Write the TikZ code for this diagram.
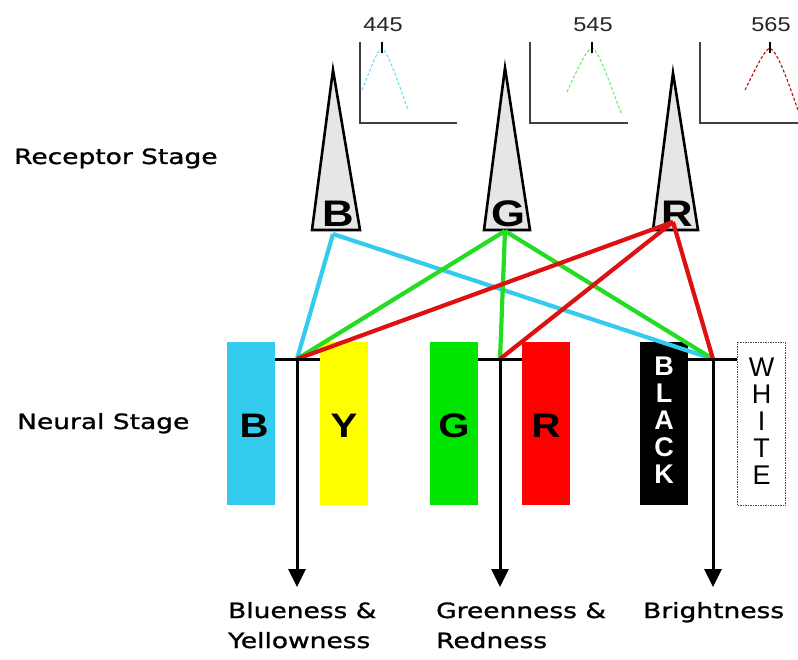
\documentclass[tikz,border=0pt]{standalone}
\usepackage{fontspec}
\setmainfont{DejaVu Sans}[FakeStretch=1.26,FakeBold=1.2]
\newfontfamily\arialfont{Liberation Sans}[FakeStretch=1.18]
\newfontfamily\narrowarial{Liberation Sans}
\usetikzlibrary{arrows.meta}
\definecolor{conefill}{HTML}{E6E6E6}
\definecolor{bluecol}{HTML}{33CCEE}
\definecolor{yellowcol}{HTML}{FFFF00}
\definecolor{greencol}{HTML}{00E600}
\definecolor{redcol}{HTML}{FF0000}
\definecolor{redline}{HTML}{DD1111}
\definecolor{greenline}{HTML}{22DD22}
\begin{document}
\begin{tikzpicture}[x=1pt,y=-1pt,
  cone/.style={draw=black,line width=2.6pt,fill=conefill,line join=miter},
  conelabel/.style={font=\arialfont\bfseries\fontsize{37}{37}\selectfont,inner sep=0pt,anchor=base},
  axis/.style={draw=black!75,line width=1.6pt},
  curve/.style={line width=1.1pt,dash pattern=on 3pt off 2pt},
  peaklabel/.style={font=\arialfont\fontsize{20}{20}\selectfont,text=black!85,inner sep=0pt,anchor=base},
  bar/.style={minimum width=48pt,minimum height=163pt,inner sep=0pt,anchor=north west},
  barlabel/.style={font=\arialfont\bfseries\fontsize{34}{34}\selectfont,inner sep=0pt,anchor=base},
  vlabel/.style={font=\narrowarial\fontsize{27}{27}\selectfont,align=center,inner sep=0pt},
  conn/.style={line width=4.2pt},
  tbar/.style={line width=3pt,draw=black},
  outarrow/.style={line width=3pt,draw=black,-{Triangle[width=17pt,length=18pt]}},
  stage/.style={font=\fontsize{21}{21}\selectfont,inner sep=0pt,anchor=base west},
  outtext/.style={font=\fontsize{21}{21}\selectfont,inner sep=0pt,anchor=base west}]
\useasboundingbox[fill=white] (0,0) rectangle (798,660);

% spectral sensitivity plots
\draw[axis] (360,42) -- (360,123) -- (457,123);
\draw[curve,bluecol!70] (362,90) .. controls (372,66) and (377,50) .. (382,48) .. controls (388,52) and (398,82) .. (408,110);
\draw[black,line width=2pt] (382,42) -- (382,53);
\node[peaklabel] (p445) at (383,32) {445};

\draw[axis] (530,42) -- (530,123) -- (628,123);
\draw[curve,greencol!60] (567,92) .. controls (578,68) and (586,50) .. (592,48) .. controls (600,52) and (610,85) .. (622,115);
\draw[black,line width=2pt] (592,42) -- (592,53);
\node[peaklabel] (p545) at (593,32) {545};

\draw[axis] (700,42) -- (700,123) -- (798,123);
\draw[curve,redline!80!black] (745,90) .. controls (756,68) and (764,50) .. (770,48) .. controls (778,52) and (788,82) .. (798,110);
\draw[black,line width=2pt] (770,42) -- (770,53);
\node[peaklabel] (p565) at (771,32) {565};

% receptor cones
\draw[cone] (333,70) -- (360,230) -- (312,230) -- cycle;
\draw[cone] (505,68) -- (530,230) -- (484,230) -- cycle;
\draw[cone] (673,73) -- (698,230) -- (653,230) -- cycle;
\node[conelabel] (coneB) at (338,227) {B};
\node[conelabel] (coneG) at (508,227) {G};
\node[conelabel] (coneR) at (677,227) {R};
\coordinate (outB) at (333,234);
\coordinate (outG) at (505,231);
\coordinate (outR) at (673,222);

% opponent channel bars
\node[bar,fill=bluecol] (barB) at (227,342) {};
\node[bar,fill=yellowcol] (barY) at (320,342) {};
\node[bar,fill=greencol] (barG) at (430,342) {};
\node[bar,fill=redcol] (barR) at (522,342) {};
\node[bar,fill=black] (barK) at (640,342) {};
\node[bar,fill=white,draw=black!70,line width=1.2pt,dash pattern=on 1.5pt off 1pt] (barW) at (737,342) {};
\node[barlabel] at (254,437) {B};
\node[barlabel] at (344,437) {Y};
\node[barlabel] at (454,437) {G};
\node[barlabel] at (546,437) {R};
\node[vlabel,text=white,font=\narrowarial\bfseries\fontsize{27}{27}\selectfont] at ([yshift=3pt]barK.center) {B\\L\\A\\C\\K};
\node[vlabel,text=black] at ([yshift=3pt]barW.center) {W\\H\\I\\T\\E};

% junctions
\coordinate (jBY) at (297,359);
\coordinate (jGR) at (500,359);
\coordinate (jBW) at (713,359);
\coordinate (endBY) at (297,587);
\coordinate (endGR) at (500,587);
\coordinate (endBW) at (713,587);

% cone-to-channel connections
\draw[conn,bluecol] (outB) -- (jBY);
\draw[conn,bluecol] (outB) -- (jBW);
\draw[conn,greenline] (outG) -- (jBY);
\draw[conn,greenline] (outG) -- (jGR);
\draw[conn,greenline] (outG) -- (jBW);
\draw[conn,redline] (outR) -- (jBY);
\draw[conn,redline] (outR) -- (jGR);
\draw[conn,redline] (outR) -- (jBW);

% T junctions and output arrows
\draw[tbar] (barB.east |- jBY) -- (barY.west |- jBY);
\draw[tbar] (barG.east |- jGR) -- (barR.west |- jGR);
\draw[tbar] (barK.east |- jBW) -- (barW.west |- jBW);
\draw[outarrow] (jBY) -- (endBY);
\draw[outarrow] (jGR) -- (endGR);
\draw[outarrow] (jBW) -- (endBW);

% stage labels
\node[stage] (recept) at (14,164) {Receptor Stage};
\node[stage] (neural) at (17,429) {Neural Stage};

% output labels
\node[outtext] (outBY1) at (228,618) {Blueness \&};
\node[outtext] (outBY2) at (228,648) {Yellowness};
\node[outtext] (outGR1) at (436,618) {Greenness \&};
\node[outtext] (outGR2) at (436,648) {Redness};
\node[outtext] (outBr) at (643,618) {Brightness};
\end{tikzpicture}
\end{document}
